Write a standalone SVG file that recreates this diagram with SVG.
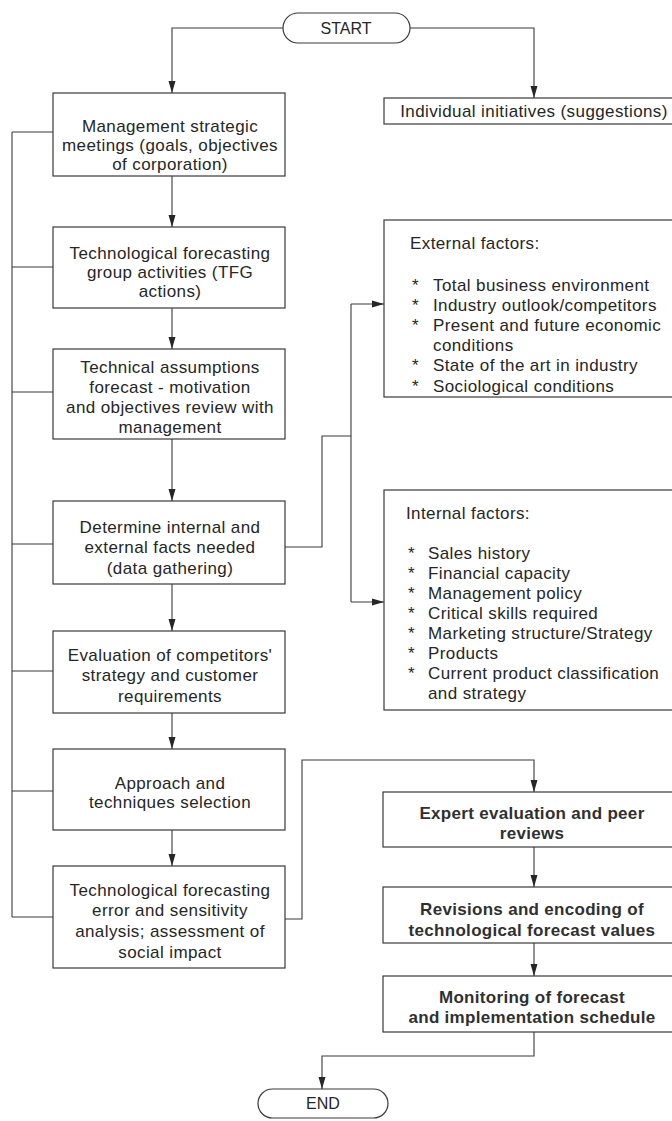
<svg xmlns="http://www.w3.org/2000/svg" width="672" height="1121" viewBox="0 0 672 1121">
  <style>
    .box { fill: #ffffff; stroke: #3a3a3a; stroke-width: 1.2; }
    .cap { fill: #ffffff; stroke: #3a3a3a; stroke-width: 1.2; }
    .wire { fill: none; stroke: #3a3a3a; stroke-width: 1.1; }
    .arrow { fill: none; stroke: #3a3a3a; stroke-width: 1.1; marker-end: url(#head); }
    text { font-family: "Liberation Sans", Arial, sans-serif; font-size: 17px; fill: #262626; letter-spacing: 0.4px; }
    .c { text-anchor: middle; }
    .b { font-weight: bold; letter-spacing: 0.3px; fill: #303030; }
    .t { font-size: 16px; letter-spacing: 0; }
  </style>
  <defs>
    <marker id="head" markerWidth="12" markerHeight="8" refX="12" refY="4" orient="auto" markerUnits="userSpaceOnUse">
      <path d="M0,0.5 L12,4 L0,7.5 Z" fill="#262626"/>
    </marker>
  </defs>

  <rect width="672" height="1121" fill="#ffffff"/>

  <!-- connectors -->
  <g id="connectors">
    <path class="arrow" d="M283,28 H172 V93"/>
    <path class="arrow" d="M410,28 H534 V98"/>
    <path class="arrow" d="M172,176 V227"/>
    <path class="arrow" d="M172,308 V349"/>
    <path class="arrow" d="M172,439 V501"/>
    <path class="arrow" d="M172,584 V631"/>
    <path class="arrow" d="M172,713 V749"/>
    <path class="arrow" d="M172,830 V866"/>
    <!-- review loop on the left -->
    <path class="wire" d="M12,132 V917"/>
    <path class="wire" d="M12,132 H53 M12,267 H53 M12,392 H53 M12,544 H53 M12,671 H53 M12,791 H53 M12,917 H53"/>
    <!-- data gathering to factor lists -->
    <path class="wire" d="M285,547 H322 V436 H351"/>
    <path class="wire" d="M351,304 V602"/>
    <path class="arrow" d="M351,304 H384"/>
    <path class="arrow" d="M351,602 H384"/>
    <!-- analysis to expert review -->
    <path class="arrow" d="M285,919 H302 V760 H534 V792"/>
    <path class="arrow" d="M534,847 V887"/>
    <path class="arrow" d="M534,943 V976"/>
    <path class="arrow" d="M534,1032 V1056 H322 V1089"/>
  </g>

  <g id="start">
    <rect class="cap" x="283" y="13" width="127" height="30" rx="15"/>
    <text class="c t" x="346" y="34">START</text>
  </g>

  <g id="individual">
    <rect class="box" x="384" y="98" width="310" height="26"/>
    <text class="c" x="534" y="117">Individual initiatives (suggestions)</text>
  </g>

  <g id="management">
    <rect class="box" x="53" y="93" width="232" height="83"/>
    <text class="c" x="170" y="132">Management strategic</text>
    <text class="c" x="170" y="151">meetings (goals, objectives</text>
    <text class="c" x="170" y="170">of corporation)</text>
  </g>

  <g id="tfg">
    <rect class="box" x="53" y="227" width="232" height="81"/>
    <text class="c" x="170" y="259">Technological forecasting</text>
    <text class="c" x="170" y="278">group activities (TFG</text>
    <text class="c" x="170" y="297">actions)</text>
  </g>

  <g id="assumptions">
    <rect class="box" x="53" y="349" width="232" height="90"/>
    <text class="c" x="170" y="373">Technical assumptions</text>
    <text class="c" x="170" y="393">forecast - motivation</text>
    <text class="c" x="170" y="413">and objectives review with</text>
    <text class="c" x="170" y="433">management</text>
  </g>

  <g id="facts">
    <rect class="box" x="53" y="501" width="232" height="83"/>
    <text class="c" x="170" y="533">Determine internal and</text>
    <text class="c" x="170" y="553">external facts needed</text>
    <text class="c" x="170" y="574">(data gathering)</text>
  </g>

  <g id="evaluation">
    <rect class="box" x="53" y="631" width="232" height="82"/>
    <text class="c" x="170" y="661">Evaluation of competitors'</text>
    <text class="c" x="170" y="681">strategy and customer</text>
    <text class="c" x="170" y="702">requirements</text>
  </g>

  <g id="approach">
    <rect class="box" x="53" y="749" width="232" height="81"/>
    <text class="c" x="170" y="789">Approach and</text>
    <text class="c" x="170" y="808">techniques selection</text>
  </g>

  <g id="analysis">
    <rect class="box" x="53" y="866" width="232" height="102"/>
    <text class="c" x="170" y="896">Technological forecasting</text>
    <text class="c" x="170" y="916">error and sensitivity</text>
    <text class="c" x="170" y="937">analysis; assessment of</text>
    <text class="c" x="170" y="958">social impact</text>
  </g>

  <g id="external">
    <rect class="box" x="384" y="220" width="310" height="177"/>
    <text x="410" y="249">External factors:</text>
    <text x="412" y="291">*</text><text x="433" y="291">Total business environment</text>
    <text x="412" y="311">*</text><text x="433" y="311">Industry outlook/competitors</text>
    <text x="412" y="331">*</text><text x="433" y="331">Present and future economic</text>
    <text x="433" y="351">conditions</text>
    <text x="412" y="371">*</text><text x="433" y="371">State of the art in industry</text>
    <text x="412" y="392">*</text><text x="433" y="392">Sociological conditions</text>
  </g>

  <g id="internal">
    <rect class="box" x="384" y="490" width="310" height="220"/>
    <text x="406" y="519">Internal factors:</text>
    <text x="408" y="559">*</text><text x="428" y="559">Sales history</text>
    <text x="408" y="579">*</text><text x="428" y="579">Financial capacity</text>
    <text x="408" y="599">*</text><text x="428" y="599">Management policy</text>
    <text x="408" y="619">*</text><text x="428" y="619">Critical skills required</text>
    <text x="408" y="639">*</text><text x="428" y="639">Marketing structure/Strategy</text>
    <text x="408" y="659">*</text><text x="428" y="659">Products</text>
    <text x="408" y="679">*</text><text x="428" y="679">Current product classification</text>
    <text x="428" y="699">and strategy</text>
  </g>

  <g id="expert">
    <rect class="box" x="383" y="792" width="310" height="55"/>
    <text class="c b" x="532" y="819">Expert evaluation and peer</text>
    <text class="c b" x="532" y="839">reviews</text>
  </g>

  <g id="revisions">
    <rect class="box" x="383" y="887" width="310" height="56"/>
    <text class="c b" x="532" y="915">Revisions and encoding of</text>
    <text class="c b" x="532" y="936">technological forecast values</text>
  </g>

  <g id="monitoring">
    <rect class="box" x="383" y="976" width="310" height="56"/>
    <text class="c b" x="532" y="1003">Monitoring of forecast</text>
    <text class="c b" x="532" y="1023">and implementation schedule</text>
  </g>

  <g id="end">
    <rect class="cap" x="258" y="1089" width="130" height="29" rx="14.5"/>
    <text class="c t" x="323" y="1109">END</text>
  </g>
</svg>
